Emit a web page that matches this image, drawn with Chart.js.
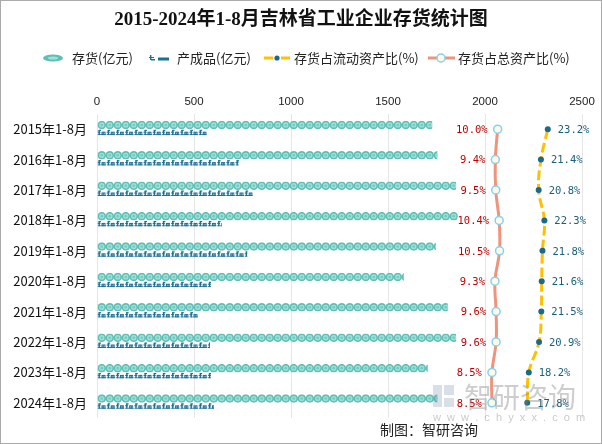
<!DOCTYPE html>
<html>
<head>
<meta charset="utf-8">
<script src="https://cdn.jsdelivr.net/npm/chart.js@4/dist/chart.umd.min.js"></script>
<style>
  html, body { margin: 0; padding: 0; background: #fff; }
  canvas { display: block; }
</style>
</head>
<body>
<canvas id="chart" width="602" height="444"></canvas>
<script>
const categorias = ['2015年1-8月', '2016年1-8月', '2017年1-8月', '2018年1-8月', '2019年1-8月',
  '2020年1-8月', '2021年1-8月', '2022年1-8月', '2023年1-8月', '2024年1-8月'];
const cunhuo = [1728, 1754, 1851, 1859, 1747, 1582, 1808, 1851, 1705, 1754];
const chanchengpin = [565, 732, 802, 643, 775, 588, 521, 582, 588, 603];
const zhanLiudong = [23.2, 21.4, 20.8, 22.3, 21.8, 21.6, 21.5, 20.9, 18.2, 17.8];
const zhanZong = [10.0, 9.4, 9.5, 10.4, 10.5, 9.3, 9.6, 9.6, 8.5, 8.5];
const xTicks = [0, 500, 1000, 1500, 2000, 2500];

const CJK = '"Noto Sans CJK SC", "Noto Sans", sans-serif';
const TEAL = '#5ec0b5';
const AZUL = '#1f6e94';

// circulos del stock
function pintarCirculos(ctx, bar) {
  const top = bar.y - bar.height / 2;
  ctx.save();
  ctx.beginPath();
  ctx.rect(bar.base, top, bar.x - bar.base, bar.height);
  ctx.clip();
  const r = bar.height / 2;
  for (let cx = bar.base + r; cx - r < bar.x; cx += 8) {
    ctx.fillStyle = TEAL;
    ctx.beginPath(); ctx.arc(cx, bar.y, r, 0, Math.PI * 2); ctx.fill();
    ctx.fillStyle = '#a3dfd8';
    ctx.beginPath(); ctx.arc(cx, bar.y, r * 0.62, 0, Math.PI * 2); ctx.fill();
    ctx.fillStyle = '#6fcac0';
    ctx.beginPath(); ctx.arc(cx, bar.y, r * 0.3, 0, Math.PI * 2); ctx.fill();
  }
  ctx.restore();
}

// glifos del producto terminado
function pintarGlifos(ctx, bar) {
  const top = bar.y - bar.height / 2;
  const h = bar.height;
  ctx.save();
  ctx.beginPath();
  ctx.rect(bar.base, top, bar.x - bar.base, h);
  ctx.clip();
  for (let x = bar.base; x < bar.x; x += 9.2) {
    ctx.fillStyle = AZUL;
    ctx.fillRect(x + 1, top + 1, 1.4, h - 1);
    ctx.fillRect(x + 1, top + 0.5, 2.5, 1.2);
    ctx.fillRect(x, top + 2.5, 3, 1);
    ctx.fillRect(x + 4, top + 2.5, 4, h - 2.5);
    ctx.fillStyle = '#8fc0d8';
    ctx.fillRect(x + 5, top + 3.5, 0.9, h - 4.5);
    ctx.fillRect(x + 6.6, top + 3.5, 0.9, h - 4.5);
    ctx.fillStyle = AZUL;
    ctx.fillRect(x, top + h - 1, 8.5, 1);
  }
  ctx.restore();
}

const patronBarras = {
  id: 'patronBarras',
  afterDatasetDraw(chart, args) {
    const ctx = chart.ctx;
    if (args.index === 0) args.meta.data.forEach(b => pintarCirculos(ctx, b));
    if (args.index === 1) args.meta.data.forEach(b => pintarGlifos(ctx, b));
  }
};

const etiquetas = {
  id: 'etiquetas',
  afterDatasetsDraw(chart) {
    const ctx = chart.ctx;
    ctx.save();
    ctx.font = '10.5px "DejaVu Sans Mono", monospace';
    ctx.textBaseline = 'middle';
    chart.getDatasetMeta(2).data.forEach((p, i) => {
      ctx.fillStyle = '#c00000';
      ctx.textAlign = 'right';
      ctx.fillText(zhanZong[i].toFixed(1) + '%', p.x - 10, p.y + 1);
    });
    chart.getDatasetMeta(3).data.forEach((p, i) => {
      ctx.fillStyle = '#1a5f7a';
      ctx.textAlign = 'left';
      ctx.fillText(zhanLiudong[i].toFixed(1) + '%', p.x + 10, p.y + 1);
    });
    ctx.restore();
  }
};

const decorado = {
  id: 'decorado',
  afterDraw(chart) {
    const ctx = chart.ctx;
    ctx.save();
    // titulo
    ctx.fillStyle = '#111';
    ctx.font = 'bold 19px "Liberation Serif", ' + CJK;
    ctx.textAlign = 'center';
    ctx.textBaseline = 'middle';
    ctx.fillText('2015-2024年1-8月吉林省工业企业存货统计图', 301, 20);

    // leyenda
    const ly = 58;
    ctx.textAlign = 'left';
    ctx.font = '13px ' + CJK;
    ctx.fillStyle = TEAL;
    ctx.beginPath(); ctx.ellipse(53, ly, 10, 3.6, 0, 0, Math.PI * 2); ctx.fill();
    ctx.fillStyle = '#a3dfd8';
    ctx.beginPath(); ctx.ellipse(53, ly, 5, 1.5, 0, 0, Math.PI * 2); ctx.fill();
    ctx.fillStyle = '#222';
    ctx.fillText('存货(亿元)', 72, ly);

    ctx.fillStyle = AZUL;
    ctx.fillRect(150, ly - 3, 1.4, 5);
    ctx.fillRect(149, ly - 1, 5, 1);
    ctx.fillRect(151, ly + 1, 4, 1.5);
    ctx.fillRect(158, ly - 0.5, 11, 3);
    ctx.fillStyle = '#222';
    ctx.fillText('产成品(亿元)', 177, ly);

    ctx.fillStyle = '#ffc000';
    ctx.fillRect(264, ly - 1.5, 9, 3);
    ctx.fillRect(281, ly - 1.5, 9, 3);
    ctx.fillStyle = '#1b6a8c';
    ctx.beginPath(); ctx.arc(277, ly, 2.6, 0, Math.PI * 2); ctx.fill();
    ctx.fillStyle = '#222';
    ctx.fillText('存货占流动资产比(%)', 294, ly);

    ctx.fillStyle = '#f0937d';
    ctx.fillRect(428, ly - 1.5, 27, 3);
    ctx.fillStyle = '#fdfbe8';
    ctx.strokeStyle = '#86d0ee';
    ctx.lineWidth = 1.5;
    ctx.beginPath(); ctx.arc(441, ly, 4, 0, Math.PI * 2); ctx.fill(); ctx.stroke();
    ctx.fillStyle = '#222';
    ctx.fillText('存货占总资产比(%)', 458, ly);

    // marca de agua
    ctx.fillStyle = 'rgba(120,140,170,0.28)';
    ctx.fillRect(433, 385, 9, 22);
    ctx.fillRect(444, 385, 10, 10);
    ctx.fillRect(444, 398, 10, 9);
    ctx.fillStyle = 'rgba(130,130,130,0.4)';
    ctx.font = '28px ' + CJK;
    ctx.fillText('智研咨询', 464, 397);
    ctx.font = '11px "Liberation Sans", sans-serif';
    ctx.fillStyle = 'rgba(150,150,150,0.5)';
    ctx.fillText('w  w  w  .  c  h  y  x  x  .  c  o  m', 433, 418);

    // fuente
    ctx.fillStyle = '#222';
    ctx.font = '14px ' + CJK;
    ctx.fillText('制图：智研咨询', 380, 430);

    // borde
    ctx.strokeStyle = '#aaa';
    ctx.lineWidth = 1;
    ctx.strokeRect(0.5, 0.5, 601, 443);
    ctx.restore();
  }
};

new Chart(document.getElementById('chart'), {
  type: 'bar',
  data: {
    labels: categorias,
    datasets: [
      {
        label: '存货(亿元)',
        data: cunhuo,
        backgroundColor: 'rgba(0,0,0,0)',
        borderWidth: 0,
        categoryPercentage: 0.56,
        barPercentage: 1,
        xAxisID: 'x',
        order: 2
      },
      {
        label: '产成品(亿元)',
        data: chanchengpin,
        backgroundColor: 'rgba(0,0,0,0)',
        borderWidth: 0,
        categoryPercentage: 0.56,
        barPercentage: 1,
        barThickness: 6,
        xAxisID: 'x',
        order: 2
      },
      {
        type: 'line',
        label: '存货占总资产比(%)',
        data: zhanZong,
        indexAxis: 'y',
        xAxisID: 'x2',
        borderColor: '#f0937d',
        borderWidth: 3,
        tension: 0.4,
        pointRadius: 4,
        pointBackgroundColor: '#fdfbe8',
        pointBorderColor: '#86d0ee',
        pointBorderWidth: 1.5,
        order: 0
      },
      {
        type: 'line',
        label: '存货占流动资产比(%)',
        data: zhanLiudong,
        indexAxis: 'y',
        xAxisID: 'x2',
        borderColor: '#ffc000',
        borderWidth: 3,
        borderDash: [10, 4],
        tension: 0.4,
        pointRadius: 3,
        pointBackgroundColor: '#1b6a8c',
        pointBorderWidth: 0,
        order: 0
      }
    ]
  },
  options: {
    indexAxis: 'y',
    responsive: false,
    animation: false,
    devicePixelRatio: 1,
    layout: { padding: { top: 90, right: 20, bottom: 26, left: 0 } },
    plugins: {
      legend: { display: false },
      title: { display: false },
      tooltip: { enabled: false }
    },
    scales: {
      x: {
        position: 'top',
        min: 0,
        max: 2500,
        afterBuildTicks: s => { s.ticks = xTicks.map(v => ({ value: v })); },
        afterFit: s => { s.height = 24; },
        grid: { color: '#e6e6e6', drawTicks: false },
        border: { display: false },
        ticks: {
          padding: 5,
          color: '#222',
          font: { family: '"Liberation Sans", sans-serif', size: 11.5 },
          callback: v => String(v)
        }
      },
      x2: {
        display: false,
        min: -95.4,
        max: 32.2
      },
      y: {
        afterFit: s => { s.width = 97; },
        grid: { display: false, drawTicks: false },
        border: { display: false },
        ticks: {
          padding: 10,
          color: '#111',
          font: { family: CJK, size: 13 }
        }
      }
    }
  },
  plugins: [patronBarras, etiquetas, decorado]
});
</script>
</body>
</html>
